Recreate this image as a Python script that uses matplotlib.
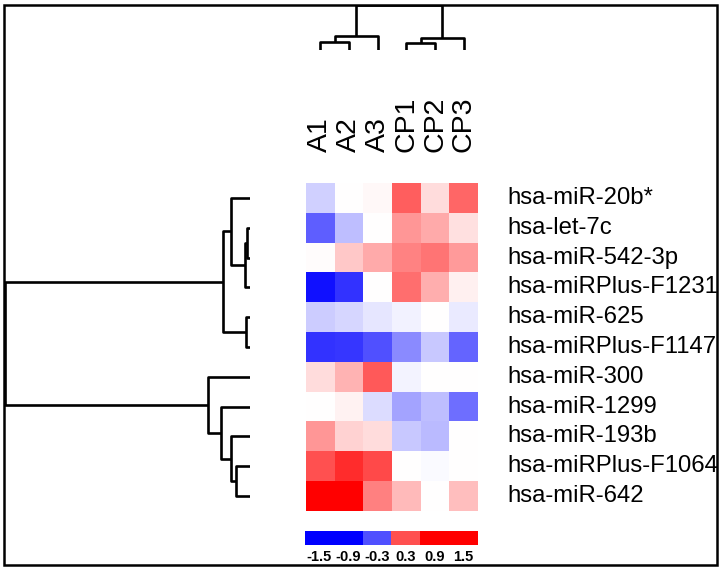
import numpy as np
import matplotlib
matplotlib.use("Agg")
import matplotlib.pyplot as plt
from matplotlib.colors import LinearSegmentedColormap, ListedColormap
from matplotlib.patches import Rectangle

# ---------------- data ----------------
samples = ["A1", "A2", "A3", "CP1", "CP2", "CP3"]
mirnas = ["hsa-miR-20b*", "hsa-let-7c", "hsa-miR-542-3p", "hsa-miRPlus-F1231",
          "hsa-miR-625", "hsa-miRPlus-F1147", "hsa-miR-300", "hsa-miR-1299",
          "hsa-miR-193b", "hsa-miRPlus-F1064", "hsa-miR-642"]
values = np.array([
    [-0.27, 0.00, 0.04, 0.94, 0.20, 0.90],
    [-0.94, -0.38, 0.00, 0.62, 0.50, 0.18],
    [0.02, 0.32, 0.50, 0.73, 0.82, 0.59],
    [-1.40, -1.20, 0.00, 0.85, 0.47, 0.09],
    [-0.30, -0.24, -0.15, -0.08, 0.00, -0.12],
    [-1.20, -1.18, -1.03, -0.68, -0.32, -0.91],
    [0.20, 0.44, 0.97, -0.06, 0.00, 0.00],
    [0.00, 0.08, -0.20, -0.53, -0.38, -0.85],
    [0.62, 0.26, 0.20, -0.32, -0.41, 0.00],
    [1.03, 1.24, 1.06, 0.00, -0.03, 0.00],
    [1.50, 1.50, 0.74, 0.41, 0.00, 0.38],
])
# hierarchical merges: (child a, child b, height); new nodes numbered after leaves
row_merges = [(1, 2, 3.5), (11, 3, 5.0), (4, 5, 4.0), (0, 12, 19.0), (14, 13, 27.0),
              (9, 10, 14.0), (8, 16, 19.0), (7, 17, 29.0), (6, 18, 42.0), (15, 19, 245.0)]
col_merges = [(0, 1, 8.0), (6, 2, 14.0), (3, 4, 7.0), (8, 5, 12.0), (7, 9, 45.0)]
legend_labels = ["-1.5", "-0.9", "-0.3", "0.3", "0.9", "1.5"]

# ---------------- style ----------------
W, H = 720, 567
fig = plt.figure(figsize=(W / 100, H / 100), dpi=100)
FONT = "Liberation Sans"
cmap = LinearSegmentedColormap.from_list("bwr2", ["#0000ff", "#ffffff", "#ff0000"])
legend_cmap = ListedColormap(["#0000ff", "#0000ff", "#5050ff", "#ff5050", "#ff0000", "#ff0000"])
LW = 1.9


def px_axes(x0, y0, x1, y1):
    return fig.add_axes([x0 / W, 1 - y1 / H, (x1 - x0) / W, (y1 - y0) / H])


def draw_dendro(ax, merges, n, orient):
    pos = {i: float(i) for i in range(n)}
    hgt = {i: 0.0 for i in range(n)}
    for k, (a, b, h) in enumerate(merges):
        xs_p = [pos[a], pos[a], pos[b], pos[b]]
        hs = [hgt[a], h, h, hgt[b]]
        if orient == "left":
            ax.plot(hs, xs_p, color="black", lw=LW, solid_capstyle="butt")
        else:
            ax.plot(xs_p, hs, color="black", lw=LW, solid_capstyle="butt")
        node = n + k
        pos[node] = (pos[a] + pos[b]) / 2
        hgt[node] = h


# heatmap
hx0, hy0, hx1, hy1 = 306, 183, 478, 511
ax = px_axes(hx0, hy0, hx1, hy1)
ax.imshow(values, cmap=cmap, vmin=-1.5, vmax=1.5, aspect="auto", interpolation="nearest")
ax.set_xlim(-0.5, len(samples) - 0.5)
ax.set_ylim(len(mirnas) - 0.5, -0.5)
ax.axis("off")
for j, s in enumerate(samples):
    ax.text(j, 1 + 31 / (hy1 - hy0), s, transform=ax.get_xaxis_transform(),
            rotation=90, ha="center", va="bottom", fontsize=20.5, family=FONT)
for i, m in enumerate(mirnas):
    ax.text(1 + 29 / (hx1 - hx0), i, m, transform=ax.get_yaxis_transform(),
            ha="left", va="center", fontsize=17.2, family=FONT)

# row dendrogram
axr = px_axes(5, hy0, 250, hy1)
draw_dendro(axr, row_merges, len(mirnas), "left")
axr.set_xlim(245, 0)
axr.set_ylim(len(mirnas) - 0.5, -0.5)
axr.axis("off")

# column dendrogram
axc = px_axes(hx0, 5, hx1, 50)
draw_dendro(axc, col_merges, len(samples), "top")
axc.set_xlim(-0.5, len(samples) - 0.5)
axc.set_ylim(0, 45)
axc.axis("off")

# colour key
axk = px_axes(305, 531, 478, 545)
axk.imshow(np.arange(len(legend_labels))[None, :], cmap=legend_cmap, aspect="auto",
           interpolation="nearest")
axk.axis("off")
for j, lab in enumerate(legend_labels):
    axk.text(j, -0.86, lab, transform=axk.get_xaxis_transform(), ha="center", va="center",
             fontsize=10.5, fontweight="bold", family=FONT)

# outer frame
fig.patches.append(Rectangle((4 / W, 1 - 565 / H), 713 / W, 560 / H, transform=fig.transFigure,
                             fill=False, edgecolor="black", lw=1.8))

fig.savefig("out.png", dpi=100)
